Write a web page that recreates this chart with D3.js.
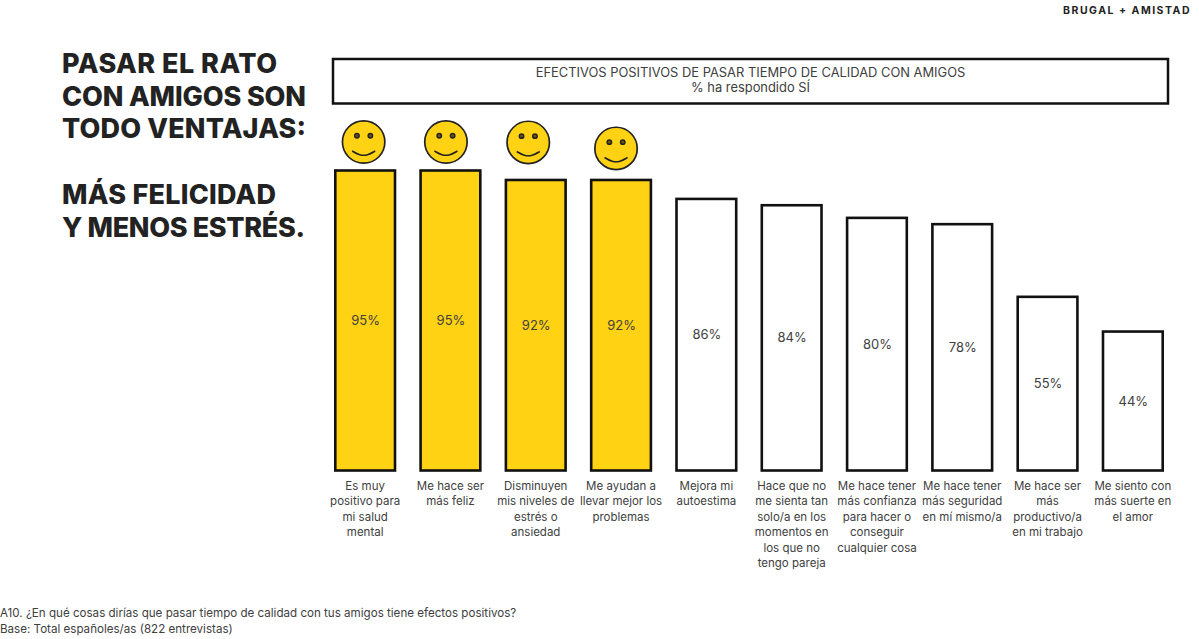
<!DOCTYPE html>
<html><head><meta charset="utf-8">
<script src="https://cdn.jsdelivr.net/npm/d3@7"></script>
<style>
html,body{margin:0;padding:0;background:#fff;overflow:hidden}
svg{display:block}
text{font-family:Inter,"Noto Sans",sans-serif;fill:#404040}
</style></head><body>
<svg id="c" width="1199" height="639"></svg>
<script>
const categories = [
 ["Es muy","positivo para","mi salud","mental"],
 ["Me hace ser","más feliz"],
 ["Disminuyen","mis niveles de","estrés o","ansiedad"],
 ["Me ayudan a","llevar mejor los","problemas"],
 ["Mejora mi","autoestima"],
 ["Hace que no","me sienta tan","solo/a en los","momentos en","los que no","tengo pareja"],
 ["Me hace tener","más confianza","para hacer o","conseguir","cualquier cosa"],
 ["Me hace tener","más seguridad","en mí mismo/a"],
 ["Me hace ser","más","productivo/a","en mi trabajo"],
 ["Me siento con","más suerte en","el amor"]
];
const values = [95,95,92,92,86,84,80,78,55,44];
const highlighted = [true,true,true,true,false,false,false,false,false,false];
const titleLines = ["PASAR EL RATO","CON AMIGOS SON","TODO VENTAJAS:","","MÁS FELICIDAD","Y MENOS ESTRÉS."];
const headerLines = ["EFECTIVOS POSITIVOS DE PASAR TIEMPO DE CALIDAD CON AMIGOS","% ha respondido SÍ"];
const footLines = ["A10. ¿En qué cosas dirías que pasar tiempo de calidad con tus amigos tiene efectos positivos?","Base: Total españoles/as (822 entrevistas)"];
const brand = "BRUGAL + AMISTAD";

const svg = d3.select("#c");
const ink = "#111", yellow = "#FFD214";
const x = d3.scaleBand().domain(d3.range(values.length)).range([322.5,1175.5]).paddingInner(0.3).paddingOuter(0.15);
const y = d3.scaleLinear().domain([0,95]).range([470.5,170.5]);

svg.append("text").attr("x",1191).attr("y",14).attr("text-anchor","end")
  .style("font-size","10.5px").style("font-weight",700).style("letter-spacing","1.5px").style("fill","#222").text(brand);

const titleWidths = [215,244,244,0,214,243];
svg.append("g").selectAll("text").data(titleLines).join("text")
  .attr("x",62).attr("y",(d,i)=>73+i*32.7)
  .attr("textLength",(d,i)=>titleWidths[i]||null).attr("lengthAdjust","spacing")
  .style("font-size","27px").style("font-weight",800).style("fill","#222").text(d=>d);

svg.append("rect").attr("x",333).attr("y",59).attr("width",835).attr("height",44.5)
  .attr("fill","#fff").attr("stroke",ink).attr("stroke-width",2.5);
svg.append("g").selectAll("text").data(headerLines).join("text")
  .attr("x",750.5).attr("y",(d,i)=>77+i*15).attr("text-anchor","middle")
  .style("font-size","12.9px").text(d=>d);

const idx = d3.range(values.length);
svg.append("g").selectAll("rect").data(idx).join("rect")
  .attr("x",i=>x(i)).attr("y",i=>y(values[i]))
  .attr("width",x.bandwidth()).attr("height",i=>y(0)-y(values[i]))
  .attr("fill",i=>highlighted[i]?yellow:"#fff").attr("stroke",ink).attr("stroke-width",2.6);

svg.append("g").selectAll("text").data(idx).join("text")
  .attr("x",i=>x(i)+x.bandwidth()/2+0.5).attr("y",i=>(y(values[i])+y(0))/2+4.5)
  .attr("text-anchor","middle").style("font-size","13px").text(i=>values[i]+"%");

const faceDx = [-1.5,-4.5,-7.5,-5];
const faceDy = [-28.5,-28.5,-37.5,-31.5];
const faces = svg.append("g").selectAll("g").data(idx.filter(i=>highlighted[i])).join("g")
  .attr("transform",i=>`translate(${x(i)+x.bandwidth()/2+faceDx[i]},${y(values[i])+faceDy[i]})`);
faces.append("circle").attr("r",21.2).attr("fill",yellow).attr("stroke","#222").attr("stroke-width",1.7);
faces.selectAll(".eye").data([-6.7,6.7]).join("circle").attr("class","eye")
  .attr("cx",d=>d).attr("cy",-6.3).attr("r",2.2).attr("fill","#6a5610").attr("stroke","#222").attr("stroke-width",1.5);
faces.append("path").attr("d",d3.line().curve(d3.curveBasis)([[-11.5,9],[-4,13.5],[4,13.5],[11.5,9]]))
  .attr("fill","none").attr("stroke","#222").attr("stroke-width",1.6);

const lab = svg.append("g").selectAll("text").data(idx).join("text")
  .attr("text-anchor","middle").style("font-size","11.5px");
lab.each(function(i){
  d3.select(this).selectAll("tspan").data(categories[i]).join("tspan")
    .attr("x",x(i)+x.bandwidth()/2).attr("y",(d,k)=>490+k*15.4).text(d=>d);
});

svg.append("g").selectAll("text").data(footLines).join("text")
  .attr("x",0).attr("y",(d,i)=>617+i*15.5).style("font-size","11.6px").text(d=>d);
</script>
</body></html>
